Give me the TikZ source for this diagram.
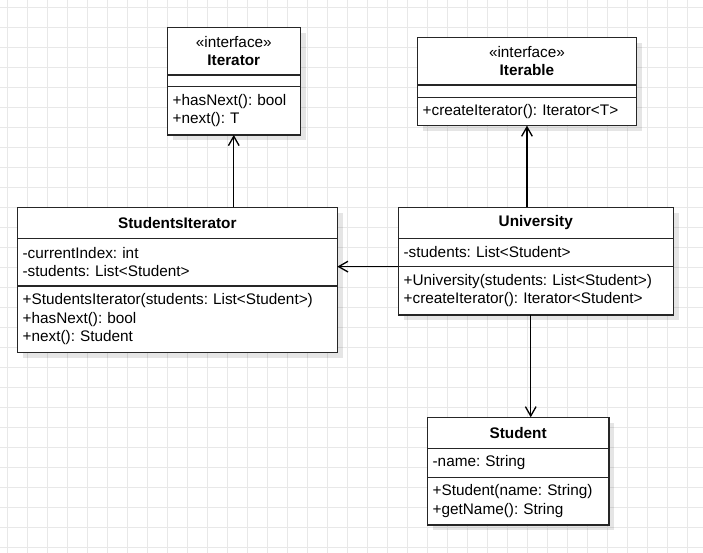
\documentclass[tikz,border=0pt]{standalone}
\usepackage{fontspec}
\setmainfont{Liberation Sans}
\frenchspacing
\usetikzlibrary{positioning, arrows.meta, shadows}
\tikzset{>={Straight Barb[length=7pt,width=8pt]}}
\tikzset{
  gridline/.style={draw=black!9, line width=0.75pt},
  clsbox/.style={draw=black!85, line width=1pt, fill=white, inner xsep=4pt, inner ysep=0pt, outer sep=0pt, text width=#1,
    drop shadow={shadow xshift=4pt, shadow yshift=-4pt, fill=black, opacity=0.1}},
  clshead/.style={clsbox=#1, align=center},
  clspart/.style={clsbox=#1, align=left},
}
\begin{document}
\begin{tikzpicture}[x=0.75pt, y=-0.75pt, font=\fontsize{11.5pt}{13.75pt}\selectfont]
\useasboundingbox (0,0) rectangle (703,553);
\foreach \gx in {7.5,27.5,...,707.5} \draw[gridline] (\gx,0) -- (\gx,553);
\foreach \gy in {7.5,27.5,...,547.5} \draw[gridline] (0,\gy) -- (703,\gy);

\node[clshead=91.75pt, minimum height=35.75pt, anchor=north west] (itr-head) at (167.3,27.3) {«interface»\\\textbf{Iterator}};
\node[clspart=91.75pt, minimum height=8.75pt, below=0pt of itr-head] (itr-attr) {};
\node[clspart=91.75pt, minimum height=36.25pt, below=0pt of itr-attr] (itr-ops) {+hasNext(): bool\\+next(): T};

\node[clshead=156.5pt, minimum height=35.75pt, anchor=north west] (ible-head) at (417.3,37.3) {«interface»\\\textbf{Iterable}};
\node[clspart=156.5pt, minimum height=9.25pt, below=0pt of ible-head] (ible-attr) {};
\node[clspart=156.5pt, minimum height=21.25pt, below=0pt of ible-attr] (ible-ops) {+createIterator(): Iterator<T>};

\node[clshead=232pt, minimum height=23.25pt, anchor=north west] (si-head) at (17.3,207.3) {\textbf{StudentsIterator}};
\node[clspart=232pt, minimum height=35.75pt, below=0pt of si-head] (si-attr) {-currentIndex: int\\-students: List<Student>};
\node[clspart=232pt, minimum height=49.75pt, below=0pt of si-attr] (si-ops) {+StudentsIterator(students: List<Student>)\\+hasNext(): bool\\+next(): Student};

\node[clshead=198.25pt, minimum height=23.25pt, anchor=north west] (uni-head) at (398.3,207.3) {\textbf{University}};
\node[clspart=198.25pt, minimum height=21.25pt, below=0pt of uni-head] (uni-attr) {-students: List<Student>};
\node[clspart=198.25pt, minimum height=36.25pt, below=0pt of uni-attr] (uni-ops) {+University(students: List<Student>)\\+createIterator(): Iterator<Student>};

\node[clshead=128.25pt, minimum height=23.25pt, anchor=north west] (stu-head) at (427.3,417.3) {\textbf{Student}};
\node[clspart=128.25pt, minimum height=21.75pt, below=0pt of stu-head] (stu-attr) {-name: String};
\node[clspart=128.25pt, minimum height=35.75pt, below=0pt of stu-attr] (stu-ops) {+Student(name: String)\\+getName(): String};

\coordinate (uni-out) at ([xshift=-3.8pt]uni-ops.south);
\path[->, line width=1pt]
(si-head.north -| itr-ops.south) edge (itr-ops.south)
(uni-head.north -| ible-ops.south) edge (ible-ops.south)
(uni-attr.south west) edge (uni-attr.south west -| si-attr.east)
(uni-out) edge (uni-out |- stu-head.north)
;
\end{tikzpicture}
\end{document}
